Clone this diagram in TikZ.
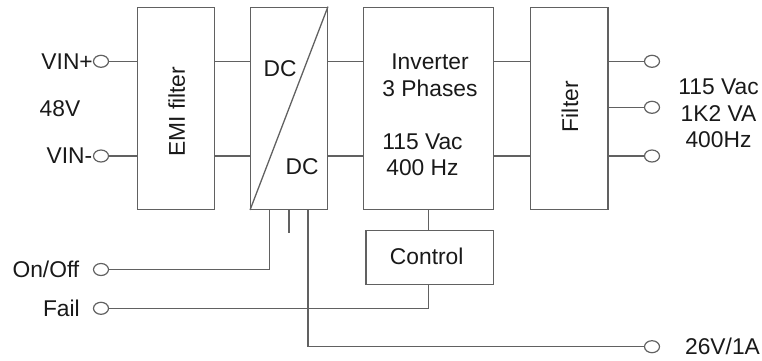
\documentclass[tikz,border=0pt]{standalone}
\usepackage{fontspec}
\setmainfont{Liberation Sans}
\usetikzlibrary{shapes.geometric}
\begin{document}
\begin{tikzpicture}[x=1pt,y=-1pt,
  wire/.style={draw=black!62, line width=1.3pt},
  blk/.style={draw=black!62, line width=1.3pt, rectangle, inner sep=0pt},
  term/.style={draw=black!62, line width=1.2pt, ellipse, minimum width=15pt, minimum height=12pt, inner sep=0pt},
  lbl/.style={inner sep=0pt, font=\fontsize{22.8}{26.5}\selectfont, text=black!90, align=center},
]
\useasboundingbox (0,0) rectangle (762,360);
% rows
\coordinate (yA) at (0,61.3);
\coordinate (yB) at (0,156);
\coordinate (yC) at (0,107.3);
% blocks
\node[blk, minimum width=76.6pt, minimum height=202pt] (emi) at (176,108.3) {};
\node[blk, minimum width=76.6pt, minimum height=202pt] (dc) at (289,108.3) {};
\node[blk, minimum width=130pt, minimum height=202pt] (inv) at (428.3,108.3) {};
\node[blk, minimum width=77.3pt, minimum height=202pt] (flt) at (569.3,108.3) {};
\node[blk, minimum width=127.3pt, minimum height=53.6pt] (ctl) at (429.7,257.5) {};
\draw[wire] (dc.south west) -- (dc.north east);
% terminals
\node[term] (vinp) at (101,61.3) {};
\node[term] (vinm) at (101,156) {};
\node[term] (onoff) at (101,269.5) {};
\node[term] (fail) at (101,308.3) {};
\node[term] (o1) at (652,61.3) {};
\node[term] (o2) at (652,107.3) {};
\node[term] (o3) at (652,156) {};
\node[term] (o26) at (652,346.7) {};
% labels
\node[lbl, anchor=east] (tvinp) at (93,61.3) {VIN+};
\node[lbl, anchor=east] (tvinm) at (92.5,156) {VIN-};
\node[lbl] (t48) at (60,109) {48V};
\node[lbl, anchor=east] (tonoff) at (79.5,269.5) {On/Off};
\node[lbl, anchor=east] (tfail) at (80,308.3) {Fail};
\node[lbl, rotate=90] (temi) at (176.7,111.7) {EMI filter};
\node[lbl] (tdc1) at (280,69) {DC};
\node[lbl] (tdc2) at (302,167) {DC};
\node[lbl] (tinv1) at (430,75.5) {Inverter\\3 Phases};
\node[lbl] (tinv2) at (422.5,155) {115 Vac\\400 Hz};
\node[lbl] (tctl) at (426.7,256.7) {Control};
\node[lbl, rotate=90] (tflt) at (570,106.7) {Filter};
\node[lbl] (tout) at (718.5,113.7) {115 Vac\\1K2 VA\\400Hz};
\node[lbl] (t26) at (722.5,346.7) {26V/1A};
% wires
\draw[wire] (vinp.east) -- (vinp.east -| emi.west);
\draw[wire] (vinm.east) -- (vinm.east -| emi.west);
\draw[wire] (emi.east |- yA) -- (dc.west |- yA);
\draw[wire] (emi.east |- yB) -- (dc.west |- yB);
\draw[wire] (dc.east |- yA) -- (inv.west |- yA);
\draw[wire] (dc.east |- yB) -- (inv.west |- yB);
\draw[wire] (inv.east |- yA) -- (flt.west |- yA);
\draw[wire] (inv.east |- yB) -- (flt.west |- yB);
\draw[wire] (flt.east |- o1) -- (o1.west);
\draw[wire] (flt.east |- o2) -- (o2.west);
\draw[wire] (flt.east |- o3) -- (o3.west);
\draw[wire] ([xshift=19.3pt]dc.south west) |- (onoff.east);
\draw[wire] (dc.south) -- ++(0,23);
\draw[wire] ([xshift=58pt]dc.south west) |- (o26.west);
\draw[wire] (inv.south) -- (inv.south |- ctl.north);
\draw[wire] (fail.east) -| (inv.south |- ctl.south);
\end{tikzpicture}
\end{document}
